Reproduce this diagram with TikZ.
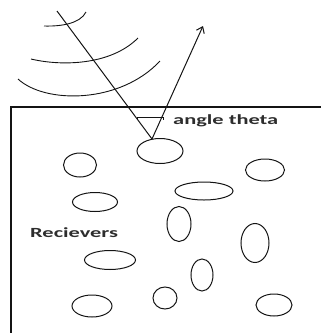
\documentclass[tikz,border=0pt]{standalone}
\usepackage{fontspec}
\newfontfamily\lblfont[FakeStretch=1.6]{Carlito}
\usepackage{tikz}
\usetikzlibrary{arrows.meta,shapes.geometric}
\definecolor{ink}{RGB}{20,20,20}
\definecolor{lbltext}{RGB}{45,45,45}
\tikzset{
  rcv/.style={draw=ink,ellipse,inner sep=0pt,line width=1pt},
  ray/.style={draw=ink,line width=1pt},
  wave/.style={draw=ink,line width=0.9pt},
  wall/.style={draw=ink,line width=1.3pt},
  lbl/.style={font=\lblfont\bfseries\fontsize{14}{16}\selectfont,text=lbltext,
              inner sep=0pt,anchor=base west},
}
\begin{document}
\begin{tikzpicture}[x=1pt,y=-1pt]
    \useasboundingbox (0,0) rectangle (321,333);
    % ground block
    \draw[wall] (11,333) -- (11,107) -- (321,107);
    % incoming wave fronts
    \draw[wave] (44,26) .. controls (60,26.5) and (80,24) .. (86,12);
    \draw[wave] (31,59) .. controls (60,66) and (110,66) .. (138,38);
    \draw[wave] (18,79) .. controls (45,104) and (120,104) .. (160,61);
    % receivers
    \node[rcv,minimum width=46pt,minimum height=25pt] (rTop) at (160,151) {};
    \node[rcv,minimum width=33pt,minimum height=24pt] (rA) at (80,165) {};
    \node[rcv,minimum width=39pt,minimum height=22pt] (rB) at (265,170) {};
    \node[rcv,minimum width=58pt,minimum height=18pt] (rC) at (204,191) {};
    \node[rcv,minimum width=45pt,minimum height=19pt] (rD) at (95,202) {};
    \node[rcv,minimum width=24pt,minimum height=35pt] (rE) at (179,224) {};
    \node[rcv,minimum width=28pt,minimum height=39pt] (rF) at (255,243) {};
    \node[rcv,minimum width=51pt,minimum height=19pt] (rG) at (110,260) {};
    \node[rcv,minimum width=22pt,minimum height=32pt] (rH) at (202,275) {};
    \node[rcv,minimum width=24pt,minimum height=22pt] (rI) at (165,298) {};
    \node[rcv,minimum width=40pt,minimum height=22pt] (rJ) at (92,306) {};
    \node[rcv,minimum width=36pt,minimum height=22pt] (rK) at (274,305) {};
    \node[lbl] (recv) at (30,237) {Recievers};
    % rays
    \coordinate (src) at (57,11);
    \coordinate (hit) at (152,139);
    \coordinate (out) at (203,26);
    \draw[ray] (src) -- (hit);
    \draw[ray,-{Straight Barb[length=2mm,width=3mm]}] (hit) -- (out);
    % angle mark
    \coordinate (angL) at (137,117);
    \coordinate (angR) at (163,117);
    \draw[ray] ([yshift=-3pt]angL) -- (angL) -- (angR) -- ([yshift=-3pt]angR);
    \node[lbl] (angle) at (173,124.5) {angle theta};
\end{tikzpicture}
\end{document}
